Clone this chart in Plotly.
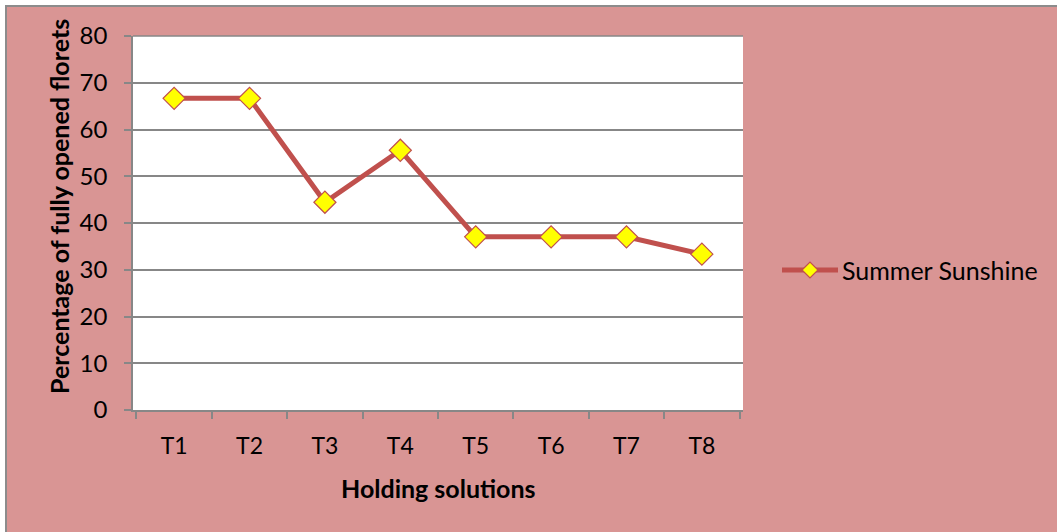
import plotly.graph_objects as go

# Data
treatments = ["T1", "T2", "T3", "T4", "T5", "T6", "T7", "T8"]
open_florets = [66.67, 66.67, 44.44, 55.56, 37.04, 37.04, 37.04, 33.33]
series_name = "Summer Sunshine"
y_ticks = [0, 10, 20, 30, 40, 50, 60, 70, 80]

W, H = 1057, 532
ML, MR, MT, MB = 133, 314, 36, 122
PW, PH = W - ML - MR, H - MT - MB

LINE = "#C0504D"
FILL = "#FFFF00"
BG = "#D99594"
GRID = "#878787"
FONT = "Lato, 'Open Sans', sans-serif"
FS = 25
TFS = 23


def px_x(p):
    return (p - ML) / PW


def px_y(p):
    return (H - MB - p) / PH


fig = go.Figure()
fig.add_trace(go.Scatter(
    x=treatments, y=open_florets, mode="lines+markers", name=series_name,
    line=dict(color=LINE, width=5),
    marker=dict(symbol="diamond", size=17, color=FILL,
                line=dict(color=LINE, width=1.2)),
    showlegend=False,
))

shapes = [
    # chart area frame
    dict(type="rect", xref="paper", yref="paper", layer="below",
         x0=px_x(6), x1=px_x(1075), y0=px_y(550), y1=px_y(6),
         fillcolor=BG, line=dict(color="#8C8C8C", width=2)),
    # plot area
    dict(type="rect", xref="paper", yref="paper", layer="below",
         x0=0, x1=1, y0=0, y1=1, fillcolor="white", line=dict(width=0)),
    # top gridline
    dict(type="line", xref="paper", yref="paper", layer="below",
         x0=0, x1=1, y0=1, y1=1, line=dict(color=GRID, width=1.5)),
    # legend key
    dict(type="line", xref="paper", yref="paper",
         x0=px_x(782), x1=px_x(838), y0=px_y(270), y1=px_y(270),
         line=dict(color=LINE, width=5)),
    dict(type="path", xref="paper", yref="paper",
         xsizemode="pixel", ysizemode="pixel",
         xanchor=px_x(810), yanchor=px_y(270),
         path="M -8 0 L 0 8 L 8 0 L 0 -8 Z",
         fillcolor=FILL, line=dict(color=LINE, width=1.2)),
]

annotations = [
    dict(text=series_name, xref="paper", yref="paper",
         x=px_x(840), y=px_y(270), xanchor="left", yanchor="middle",
         showarrow=False, font=dict(family=FONT, size=FS, color="#000")),
    dict(text="<b>Percentage of fully opened florets</b>", xref="paper", yref="paper",
         x=px_x(59), y=px_y(207), xanchor="center", yanchor="middle",
         textangle=-90, showarrow=False,
         font=dict(family=FONT, size=FS, color="#000")),
    dict(text="<b>Holding solutions</b>", xref="paper", yref="paper",
         x=px_x(438), y=px_y(488), xanchor="center", yanchor="middle",
         showarrow=False, font=dict(family=FONT, size=FS, color="#000")),
]

fig.update_layout(
    width=W, height=H,
    margin=dict(l=ML, r=MR, t=MT, b=MB, pad=0),
    paper_bgcolor="white", plot_bgcolor="white",
    font=dict(family=FONT, size=FS, color="#000"),
    shapes=shapes, annotations=annotations,
    xaxis=dict(
        type="category", tickson="boundaries", ticks="outside", ticklen=7,
        tickcolor=GRID, tickwidth=1.5, showline=True, linecolor=GRID, linewidth=1.5,
        showgrid=False, tickfont=dict(size=TFS), ticklabelstandoff=15, fixedrange=True,
    ),
    yaxis=dict(
        range=[0, 80], tickvals=y_ticks, ticks="outside", ticklen=7,
        tickcolor=GRID, tickwidth=1.5, showline=True, linecolor=GRID, linewidth=1.5,
        showgrid=True, gridcolor=GRID, gridwidth=1.5, zeroline=False,
        tickfont=dict(size=TFS + 1), ticklabelstandoff=12, fixedrange=True,
    ),
)

fig.write_html("out.html")
